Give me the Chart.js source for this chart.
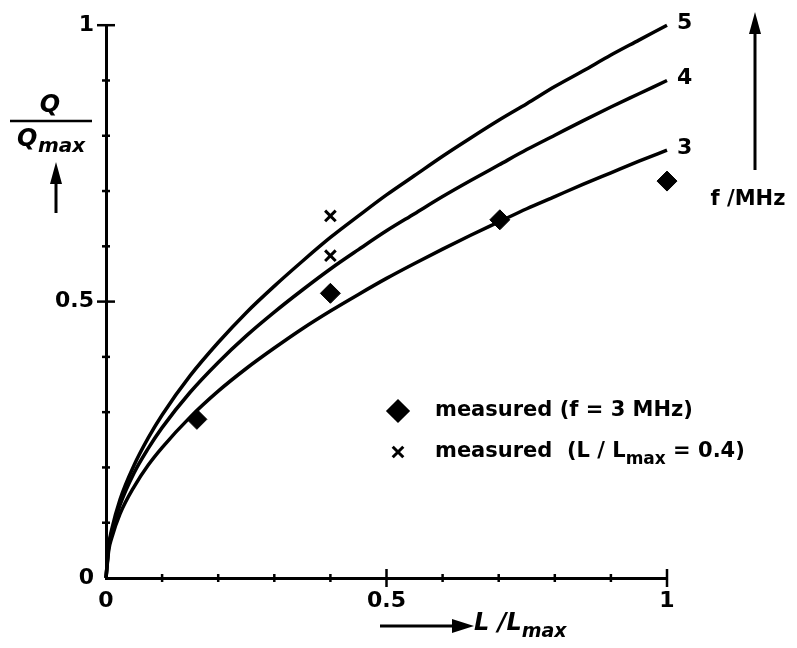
<!DOCTYPE html>
<html>
<head>
<meta charset="utf-8">
<script src="https://cdn.jsdelivr.net/npm/chart.js@4/dist/chart.umd.min.js"></script>
<style>
  html, body { margin: 0; padding: 0; background: #fff; }
  #wrap { width: 797px; height: 648px; }
</style>
</head>
<body>
<div id="wrap"><canvas id="qChart" width="797" height="648"></canvas></div>
<script>
// L/Lmax sample positions
const xVals = [0, 0.005, 0.01, 0.025, 0.05, 0.075, 0.1, 0.15, 0.2, 0.25, 0.3, 0.35, 0.4, 0.45, 0.5,
               0.55, 0.6, 0.65, 0.7, 0.75, 0.8, 0.85, 0.9, 0.95, 1.0];
// Q/Qmax curves for f = 5, 4, 3 MHz
const curve5 = [0, 0.060, 0.087, 0.142, 0.204, 0.253, 0.295, 0.366, 0.426, 0.480, 0.528, 0.573, 0.616, 0.655, 0.693,
                0.728, 0.763, 0.796, 0.828, 0.858, 0.889, 0.917, 0.946, 0.973, 1.0];
const curve4 = [0, 0.057, 0.082, 0.132, 0.190, 0.234, 0.272, 0.336, 0.390, 0.438, 0.481, 0.521, 0.559, 0.594, 0.628,
                0.659, 0.690, 0.719, 0.747, 0.775, 0.801, 0.827, 0.852, 0.876, 0.900];
const curve3 = [0, 0.051, 0.072, 0.116, 0.165, 0.204, 0.236, 0.291, 0.338, 0.379, 0.416, 0.451, 0.483, 0.513, 0.542,
                0.569, 0.595, 0.620, 0.644, 0.668, 0.690, 0.712, 0.733, 0.754, 0.774];
const curveLabels = ['5', '4', '3'];

// measured points, f = 3 MHz (diamonds)
const measX = [0.162, 0.4, 0.702, 1.0];
const measY = [0.287, 0.515, 0.648, 0.718];
// measured points, L/Lmax = 0.4 (crosses)
const crossX = [0.4, 0.4];
const crossY = [0.655, 0.583];

const yTickLabels = [0, 0.5, 1];
const xTickLabels = [0, 0.5, 1];

const FONT = '"DejaVu Sans", sans-serif';

function pts(xs, ys) {
  return xs.map((x, i) => ({ x: x, y: ys[i] }));
}

function curveSet(data) {
  return {
    data: pts(xVals, data),
    borderColor: '#000',
    borderWidth: 3.5,
    pointRadius: 0,
    cubicInterpolationMode: 'monotone',
    fill: false
  };
}

function arrowUp(ctx, x, yBottom, yTop) {
  ctx.beginPath();
  ctx.moveTo(x, yBottom);
  ctx.lineTo(x, yTop + 18);
  ctx.lineWidth = 3;
  ctx.stroke();
  ctx.beginPath();
  ctx.moveTo(x, yTop);
  ctx.lineTo(x - 6, yTop + 22);
  ctx.lineTo(x + 6, yTop + 22);
  ctx.closePath();
  ctx.fill();
}

// draws the tick marks, curve numbers, axis titles and the key
const extrasPlugin = {
  id: 'extras',
  afterDraw(chart) {
    const ctx = chart.ctx;
    const xs = chart.scales.x;
    const ys = chart.scales.y;
    const x0 = xs.getPixelForValue(0);
    const y0 = ys.getPixelForValue(0);
    ctx.save();
    ctx.strokeStyle = '#000';
    ctx.fillStyle = '#000';
    ctx.lineWidth = 2.5;

    // ticks every 0.1, larger at 0.5 and 1
    for (let i = 1; i <= 10; i++) {
      const v = i / 10;
      const big = (i === 5 || i === 10);
      const h = big ? 9 : 4;
      const px = xs.getPixelForValue(v);
      ctx.beginPath();
      ctx.moveTo(px, y0 - h);
      ctx.lineTo(px, y0 + h);
      ctx.stroke();
      const py = ys.getPixelForValue(v);
      ctx.beginPath();
      ctx.moveTo(x0 - h, py);
      ctx.lineTo(x0 + h, py);
      ctx.stroke();
    }

    // curve numbers at the right end
    ctx.font = 'bold 22px ' + FONT;
    ctx.textAlign = 'left';
    ctx.textBaseline = 'middle';
    [curve5, curve4, curve3].forEach((c, i) => {
      const px = xs.getPixelForValue(xVals[xVals.length - 1]);
      const py = ys.getPixelForValue(c[c.length - 1]);
      ctx.fillText(curveLabels[i], px + 10, py - 2);
    });

    // f/MHz arrow
    arrowUp(ctx, 755, 170, 12);
    ctx.textAlign = 'center';
    ctx.font = 'bold 21px ' + FONT;
    ctx.fillText('f /MHz', 748, 200);

    // y title Q / Qmax
    ctx.font = 'italic bold 24px ' + FONT;
    ctx.fillText('Q', 50, 106);
    ctx.lineWidth = 2.5;
    ctx.beginPath();
    ctx.moveTo(10, 121);
    ctx.lineTo(92, 121);
    ctx.stroke();
    ctx.textAlign = 'left';
    ctx.fillText('Q', 17, 140);
    ctx.font = 'italic bold 20px ' + FONT;
    ctx.fillText('max', 38, 147);
    arrowUp(ctx, 56, 213, 162);

    // x title arrow + L/Lmax
    ctx.lineWidth = 3;
    ctx.beginPath();
    ctx.moveTo(380, 626);
    ctx.lineTo(455, 626);
    ctx.stroke();
    ctx.beginPath();
    ctx.moveTo(474, 626);
    ctx.lineTo(452, 619);
    ctx.lineTo(452, 633);
    ctx.closePath();
    ctx.fill();
    ctx.font = 'italic bold 24px ' + FONT;
    ctx.fillText('L /L', 474, 624);
    const w = ctx.measureText('L /L').width;
    ctx.font = 'italic bold 19px ' + FONT;
    ctx.fillText('max', 474 + w, 632);

    // key
    Chart.helpers.drawPoint(ctx, { pointStyle: 'rectRot', radius: 10, borderWidth: 1 }, 398, 411);
    ctx.fill();
    ctx.lineWidth = 3;
    Chart.helpers.drawPoint(ctx, { pointStyle: 'crossRot', radius: 7.5, borderWidth: 3 }, 398, 452);
    ctx.font = 'bold 21px ' + FONT;
    ctx.fillText('measured (f = 3 MHz)', 435, 411);
    ctx.fillText('measured  (L / L', 435, 452);
    const w2 = ctx.measureText('measured  (L / L').width;
    ctx.font = 'bold 17px ' + FONT;
    ctx.fillText('max', 435 + w2, 460);
    const w3 = ctx.measureText('max').width;
    ctx.font = 'bold 21px ' + FONT;
    ctx.fillText(' = 0.4)', 435 + w2 + w3, 452);

    ctx.restore();
  }
};

new Chart(document.getElementById('qChart').getContext('2d'), {
  type: 'line',
  data: {
    datasets: [
      curveSet(curve5),
      curveSet(curve4),
      curveSet(curve3),
      {
        type: 'scatter',
        data: pts(measX, measY),
        pointStyle: 'rectRot',
        pointRadius: 10,
        backgroundColor: '#000',
        borderColor: '#000',
        borderWidth: 1,
        showLine: false
      },
      {
        type: 'scatter',
        data: pts(crossX, crossY),
        pointStyle: 'crossRot',
        pointRadius: 7.5,
        borderColor: '#000',
        borderWidth: 3,
        showLine: false
      }
    ]
  },
  options: {
    responsive: false,
    animation: false,
    clip: false,
    layout: { padding: { top: 22, right: 130, left: 0, bottom: 0 } },
    plugins: { legend: { display: false }, tooltip: { enabled: false } },
    scales: {
      x: {
        type: 'linear',
        min: 0,
        max: 1,
        grid: { display: false, drawTicks: false },
        border: { color: '#000', width: 3 },
        ticks: {
          stepSize: 0.1,
          autoSkip: false,
          maxRotation: 0,
          padding: 10,
          color: '#000',
          font: { family: FONT, size: 22, weight: 'bold' },
          callback: v => xTickLabels.some(t => Math.abs(t - v) < 1e-6) ? String(+v.toFixed(1)) : ''
        },
        afterFit: s => { s.height = 70; }
      },
      y: {
        min: 0,
        max: 1,
        grid: { display: false, drawTicks: false },
        border: { color: '#000', width: 3 },
        ticks: {
          stepSize: 0.1,
          autoSkip: false,
          padding: 12,
          color: '#000',
          font: { family: FONT, size: 22, weight: 'bold' },
          callback: v => yTickLabels.some(t => Math.abs(t - v) < 1e-6) ? String(+v.toFixed(1)) : ''
        },
        afterFit: s => { s.width = 106; }
      }
    }
  },
  plugins: [extrasPlugin]
});
</script>
</body>
</html>
